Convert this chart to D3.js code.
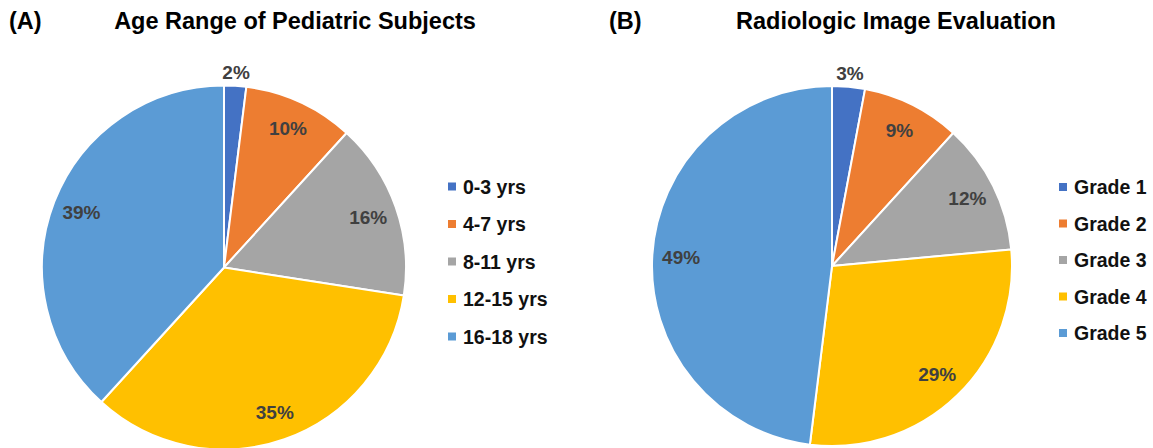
<!DOCTYPE html>
<html>
<head>
<meta charset="utf-8">
<script src="https://cdn.jsdelivr.net/npm/d3@7/dist/d3.min.js"></script>
<style>
  html, body { margin: 0; padding: 0; background: #ffffff; }
  svg { display: block; }
  text { font-family: "Liberation Sans", Arial, Helvetica, sans-serif; font-weight: bold; }
</style>
</head>
<body>
<svg id="chart" width="1153" height="448"></svg>
<script>
// Panel A: age range of pediatric subjects (percent of subjects)
const ageCategories = ["0-3 yrs", "4-7 yrs", "8-11 yrs", "12-15 yrs", "16-18 yrs"];
const ageValues = [2, 10, 16, 35, 39];

// Panel B: radiologic image evaluation grade (percent of images)
const gradeCategories = ["Grade 1", "Grade 2", "Grade 3", "Grade 4", "Grade 5"];
const gradeValues = [3, 9, 12, 29, 49];

const sliceColors = ["#4472C4", "#ED7D31", "#A5A5A5", "#FFC000", "#5B9BD5"];

const svg = d3.select("#chart");

function drawPanel(cfg) {
  const g = svg.append("g");

  // panel letter and title
  g.append("text")
    .attr("x", cfg.letterX).attr("y", 29)
    .attr("font-size", 23.5).attr("fill", "#000")
    .text(cfg.letter);
  g.append("text")
    .attr("x", cfg.titleX).attr("y", 29)
    .attr("text-anchor", "middle")
    .attr("font-size", 23.5).attr("fill", "#000")
    .text(cfg.title);

  const color = d3.scaleOrdinal().domain(cfg.categories).range(sliceColors);
  const data = cfg.categories.map((c, i) => ({ cat: c, value: cfg.values[i] }));

  const pie = d3.pie().sort(null).value(d => d.value);
  const arcs = pie(data);

  const arc = d3.arc().innerRadius(0).outerRadius(cfg.r);
  const inLabel = d3.arc().innerRadius(cfg.r * 0.84).outerRadius(cfg.r * 0.84);
  const outLabel = d3.arc().innerRadius(cfg.r + 14).outerRadius(cfg.r + 14);

  const pieG = g.append("g").attr("transform", `translate(${cfg.cx},${cfg.cy})`);

  pieG.selectAll("path.slice")
    .data(arcs)
    .join("path")
    .attr("class", "slice")
    .attr("d", arc)
    .attr("fill", d => color(d.data.cat))
    .attr("stroke", "#ffffff")
    .attr("stroke-width", 2)
    .attr("stroke-linejoin", "round");

  // percentage labels: inside the slice, or just outside when the slice is too narrow
  pieG.selectAll("text.pct")
    .data(arcs)
    .join("text")
    .attr("class", "pct")
    .attr("transform", d => {
      const small = (d.endAngle - d.startAngle) < 0.2;
      const p = (small ? outLabel : inLabel).centroid(d);
      return `translate(${p[0]},${p[1]})`;
    })
    .attr("text-anchor", "middle")
    .attr("dy", "0.36em")
    .attr("font-size", 19)
    .attr("fill", "#404040")
    .text(d => `${d.data.value}%`);

  // legend
  const legendY = d3.scalePoint()
    .domain(cfg.categories)
    .range([cfg.legendTop, cfg.legendBottom]);

  const leg = g.append("g").selectAll("g")
    .data(cfg.categories)
    .join("g")
    .attr("transform", d => `translate(${cfg.legendX},${legendY(d)})`);

  leg.append("rect")
    .attr("x", -4).attr("y", -4)
    .attr("width", 8).attr("height", 8)
    .attr("fill", d => color(d));

  leg.append("text")
    .attr("x", 11)
    .attr("dy", "0.36em")
    .attr("font-size", 19.5)
    .attr("fill", "#111")
    .text(d => d);
}

drawPanel({
  letter: "(A)", letterX: 9,
  title: "Age Range of Pediatric Subjects", titleX: 295,
  categories: ageCategories, values: ageValues,
  cx: 224, cy: 267.5, r: 182,
  legendX: 452, legendTop: 186.5, legendBottom: 336.5
});

drawPanel({
  letter: "(B)", letterX: 609,
  title: "Radiologic Image Evaluation", titleX: 896,
  categories: gradeCategories, values: gradeValues,
  cx: 832, cy: 266, r: 180,
  legendX: 1063, legendTop: 187, legendBottom: 333
});
</script>
</body>
</html>
